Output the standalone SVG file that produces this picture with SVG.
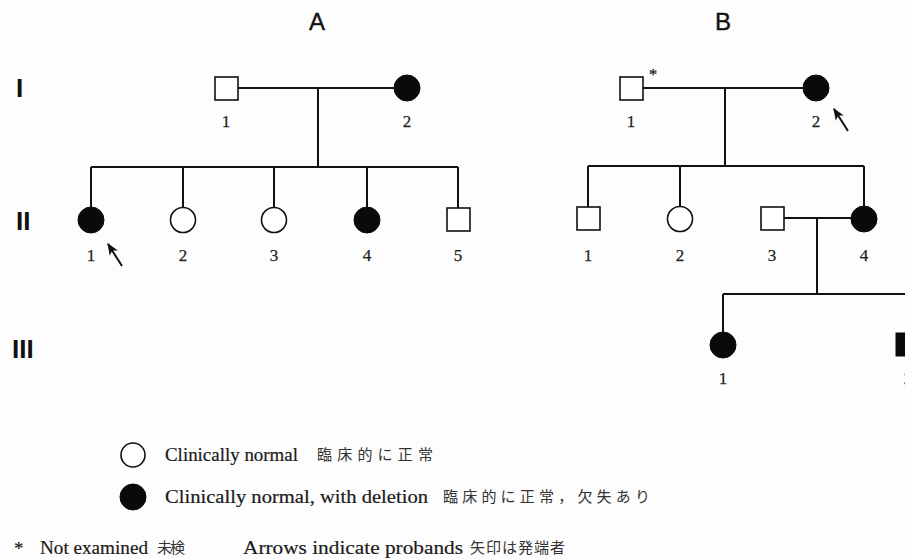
<svg xmlns="http://www.w3.org/2000/svg" width="905" height="559" viewBox="0 0 905 559">
  <defs>
    <marker id="head" viewBox="0 0 10 10" refX="9" refY="5" markerWidth="6" markerHeight="6" orient="auto" markerUnits="strokeWidth">
      <path d="M0,1 L10,5 L0,9 L2.5,5 Z" fill="#111"/>
    </marker>
    <style>
      .line { stroke: #111; stroke-width: 2; fill: none; }
      .male { fill: #fff; stroke: #111; stroke-width: 1.6; }
      .open { fill: #fff; stroke: #111; stroke-width: 1.6; }
      .aff { fill: #0a0a0a; stroke: #0a0a0a; stroke-width: 1; }
      .num { font-family: "Liberation Serif", "DejaVu Serif", serif; font-size: 17px; fill: #222; stroke: #222; stroke-width: 0.25; text-anchor: middle; }
      .title { font-family: "Liberation Sans", Arial, sans-serif; font-size: 24px; fill: #111; stroke: #111; stroke-width: 0.4; text-anchor: middle; }
      .gen { font-family: "Liberation Sans", Arial, sans-serif; font-size: 26px; font-weight: bold; fill: #111; }
      .leg { font-family: "Liberation Serif", "DejaVu Serif", serif; font-size: 19px; fill: #1a1a1a; stroke: #1a1a1a; stroke-width: 0.2; }
      .jp { font-family: "Noto Sans CJK JP", "Noto Sans CJK SC", sans-serif; font-size: 15px; fill: #333; }
      .probe { stroke: #111; stroke-width: 2; fill: none; marker-end: url(#head); }
    </style>
  </defs>

  <rect x="0" y="0" width="905" height="559" fill="#fdfdfd"/>

  <!-- pedigree titles and generation numerals -->
  <text class="title" x="317" y="30">A</text>
  <text class="title" x="723" y="30">B</text>
  <text class="gen" x="16" y="97">I</text>
  <text class="gen" x="16" y="230">II</text>
  <text class="gen" x="12" y="358">III</text>

  <!-- connectors -->
  <g id="connectors">
    <!-- family A -->
    <path class="line" d="M238,88 H394"/>
    <path class="line" d="M318,88 V167"/>
    <path class="line" d="M91,167 H458"/>
    <path class="line" d="M91,167 V207 M183,167 V207 M274,167 V207 M367,167 V207 M458,167 V208"/>
    <!-- family B -->
    <path class="line" d="M643,88 H803"/>
    <path class="line" d="M725,88 V166"/>
    <path class="line" d="M588,166 H864"/>
    <path class="line" d="M588,166 V207 M680,166 V206 M864,166 V206"/>
    <path class="line" d="M784,218 H851"/>
    <path class="line" d="M817,218 V294"/>
    <path class="line" d="M723,294 H905"/>
    <path class="line" d="M723,294 V332"/>
    <!-- proband arrows -->
    <path class="probe" d="M122,266 L108,244"/>
    <path class="probe" d="M848,131 L834,109"/>
  </g>

  <!-- family A -->
  <g id="A-I-1"><rect class="male" x="215" y="77" width="23" height="23"/><text class="num" x="226" y="127">1</text></g>
  <g id="A-I-2"><circle class="aff" cx="407" cy="88" r="13"/><text class="num" x="407" y="127">2</text></g>
  <g id="A-II-1"><circle class="aff" cx="91" cy="220" r="13"/><text class="num" x="91" y="261">1</text></g>
  <g id="A-II-2"><circle class="open" cx="183" cy="220" r="12.5"/><text class="num" x="183" y="261">2</text></g>
  <g id="A-II-3"><circle class="open" cx="274" cy="220" r="12.5"/><text class="num" x="274" y="261">3</text></g>
  <g id="A-II-4"><circle class="aff" cx="367" cy="220" r="13"/><text class="num" x="367" y="261">4</text></g>
  <g id="A-II-5"><rect class="male" x="447" y="208" width="23" height="23"/><text class="num" x="458" y="261">5</text></g>

  <!-- family B -->
  <g id="B-I-1"><rect class="male" x="620" y="77" width="23" height="23"/><text class="num" x="631" y="127">1</text><text class="num" x="653" y="80">*</text></g>
  <g id="B-I-2"><circle class="aff" cx="816" cy="88" r="13"/><text class="num" x="816" y="127">2</text></g>
  <g id="B-II-1"><rect class="male" x="577" y="207" width="23" height="23"/><text class="num" x="588" y="261">1</text></g>
  <g id="B-II-2"><circle class="open" cx="680" cy="219" r="12.5"/><text class="num" x="680" y="261">2</text></g>
  <g id="B-II-3"><rect class="male" x="761" y="207" width="23" height="23"/><text class="num" x="772" y="261">3</text></g>
  <g id="B-II-4"><circle class="aff" cx="864" cy="219" r="13"/><text class="num" x="864" y="261">4</text></g>
  <g id="B-III-1"><circle class="aff" cx="723" cy="345" r="13"/><text class="num" x="723" y="384">1</text></g>
  <g id="B-III-2"><rect class="aff" x="896" y="333" width="23" height="23"/><text class="num" x="908" y="384">2</text></g>

  <!-- legend -->
  <g id="legend">
    <circle class="open" cx="133" cy="455" r="12"/>
    <text class="leg" x="165" y="461" textLength="133" lengthAdjust="spacingAndGlyphs">Clinically normal</text>
    <text class="jp" x="317" y="460" textLength="116" lengthAdjust="spacing">臨床的に正常</text>
    <circle class="aff" cx="133" cy="497" r="13"/>
    <text class="leg" x="165" y="503" textLength="263" lengthAdjust="spacingAndGlyphs">Clinically normal, with deletion</text>
    <text class="jp" x="443" y="502" textLength="207" lengthAdjust="spacing">臨床的に正常，欠失あり</text>
    <text class="leg" x="14" y="555">*</text>
    <text class="leg" x="40" y="554" textLength="108" lengthAdjust="spacingAndGlyphs">Not examined</text>
    <text class="jp" x="157" y="553" textLength="28" lengthAdjust="spacing">未検</text>
    <text class="leg" x="243" y="554" textLength="220" lengthAdjust="spacingAndGlyphs">Arrows indicate probands</text>
    <text class="jp" x="470" y="553" textLength="95" lengthAdjust="spacing">矢印は発端者</text>
  </g>
</svg>
